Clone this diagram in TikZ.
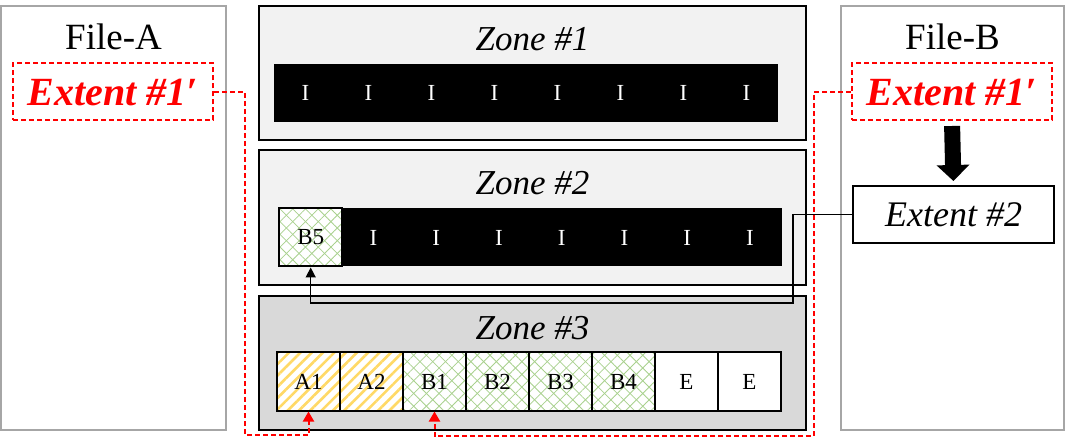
\documentclass[tikz,border=0pt]{standalone}
\usepackage{fontspec}
\setmainfont{Liberation Serif}
\usetikzlibrary{arrows.meta,patterns.meta}

\definecolor{zonelight}{HTML}{F2F2F2}
\definecolor{zonedark}{HTML}{D9D9D9}
\definecolor{filegray}{HTML}{A6A6A6}
\definecolor{stripecol}{HTML}{FFD966}
\definecolor{latticecol}{HTML}{A9D18E}
\definecolor{extred}{HTML}{FF0000}

\tikzset{
  filebox/.style={draw=filegray, line width=2pt},
  zonebox/.style={draw=black, line width=2pt},
  zonetitle/.style={anchor=base, inner sep=0pt, font=\fontsize{35}{35}\selectfont\itshape},
  filetitle/.style={anchor=base, inner sep=0pt, font=\fontsize{37}{37}\selectfont},
  cell/.style={minimum width=63pt, minimum height=58pt, inner sep=0pt, font=\fontsize{23}{23}\selectfont},
  icell/.style={cell, minimum width=63.5pt, fill=black, text=white},
  ecell/.style={cell, draw, line width=2pt, fill=white},
  stripes/.style={postaction={pattern={Lines[angle=45,distance=8pt,line width=2.6pt]}, pattern color=stripecol}},
  lattice/.style={
    postaction={pattern={Lines[angle=45,distance=9pt,line width=0.8pt]}, pattern color=latticecol},
    postaction={pattern={Lines[angle=-45,distance=9pt,line width=0.8pt]}, pattern color=latticecol}},
  reborder/.style={postaction={draw=black, line width=2pt}},
  acell/.style={ecell, stripes, reborder},
  bcell/.style={ecell, lattice, reborder},
  extdash/.style={draw=extred, line width=2pt, dash pattern=on 5pt off 3pt, text=extred,
    minimum width=200pt, minimum height=57pt, inner sep=0pt, font=\fontsize{40}{40}\selectfont\bfseries\itshape},
  extbox/.style={draw, line width=2pt, minimum width=201pt, minimum height=57pt, inner sep=0pt,
    font=\fontsize{36}{36}\selectfont\itshape},
  redlink/.style={draw=extred, line width=2pt, dash pattern=on 5pt off 3pt, -{Triangle[length=10pt,width=11pt]}},
  blacklink/.style={draw, line width=1.5pt, -{Triangle[length=10pt,width=10pt]}}
}

\begin{document}
\begin{tikzpicture}[x=1pt,y=-1pt]
  \useasboundingbox (0,0) rectangle (1066,438);

  % files
  \draw[filebox] (1,6) rectangle (226,430);
  \draw[filebox] (841,6) rectangle (1064,430);
  \node[filetitle] (fileA) at (113.5,50) {File-A};
  \node[filetitle] (fileB) at (952.5,50) {File-B};

  % zones
  \draw[zonebox, fill=zonelight] (259,6) rectangle (806,140);
  \draw[zonebox, fill=zonelight] (259,150) rectangle (806,285);
  \draw[zonebox, fill=zonedark] (259,296) rectangle (806,430);
  \node[zonetitle] (zone1) at (532.5,51) {Zone \#1};
  \node[zonetitle] (zone2) at (532.5,195) {Zone \#2};
  \node[zonetitle] (zone3) at (532.5,340) {Zone \#3};

  % zone 1 blocks
  \foreach \k in {0,...,7}
    \node[icell] (za\k) at (305.5+63*\k,93) {I};

  % zone 2 blocks
  \node[bcell, minimum width=62.75pt] (b5) at (310.7,237.5) {B5};
  \foreach \k in {1,...,7}
    \node[icell] (zb\k) at (310.7+62.75*\k,237.5) {I};

  % zone 3 blocks
  \foreach \lbl/\sty/\nm [count=\k from 0] in {A1/acell/a1,A2/acell/a2,B1/bcell/b1,B2/bcell/b2,B3/bcell/b3,B4/bcell/b4,E/ecell/e1,E/ecell/e2}
    \node[\sty] (\nm) at (308.5+63*\k,381.5) {\lbl};

  % extents
  \node[extdash] (extA) at (113,92) {Extent \#1′};
  \node[extdash] (extB) at (952,92) {Extent \#1′};
  \node[extbox] (ext2) at (953.5,214.5) {Extent \#2};

  % links
  \draw[line width=16pt, -{Triangle[length=16pt,width=32pt]}, shorten <=4.5pt, shorten >=4pt] (extB.south) -- (ext2.north);
  \coordinate (bk) at (793,303);
  \draw[blacklink] (ext2.west) -| (bk) -| (b5.south);
  \coordinate (ra) at (245,435);
  \coordinate (rb) at (814,436);
  \draw[redlink] (extA.east) -| (ra) -| (a1.south);
  \draw[redlink] (extB.west) -| (rb) -| (b1.south);
\end{tikzpicture}
\end{document}
